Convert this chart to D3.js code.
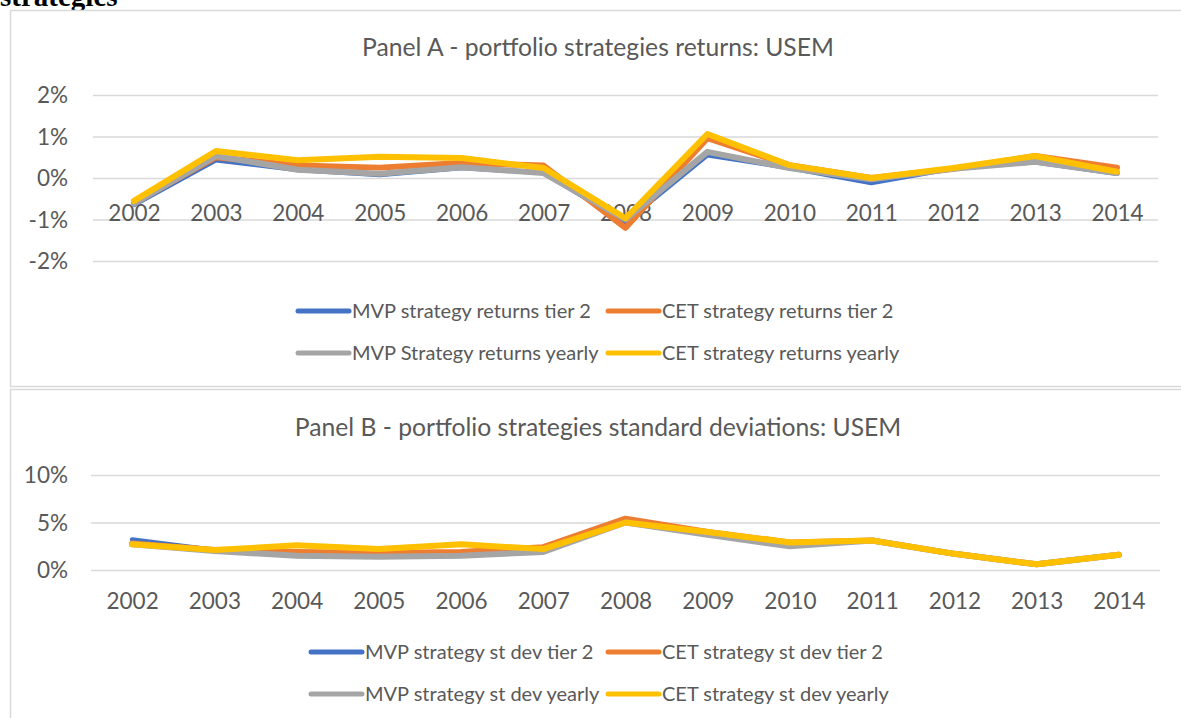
<!DOCTYPE html>
<html><head><meta charset="utf-8">
<script src="https://cdn.jsdelivr.net/npm/d3@7"></script>
<style>
html,body{margin:0;padding:0;background:#fff;overflow:hidden}
svg{display:block}
</style></head>
<body>
<svg id="chart" width="1181" height="718"></svg>
<script>
// ---- data ----
const years = ["2002","2003","2004","2005","2006","2007","2008","2009","2010","2011","2012","2013","2014"];

const panelATitle = "Panel A - portfolio strategies returns: USEM";
const panelANames = ["MVP strategy returns tier 2","CET strategy returns tier 2","MVP Strategy returns yearly","CET strategy returns yearly"];
const mvpRetTier2   = [-0.65, 0.43, 0.19, 0.07, 0.24, 0.12, -1.06, 0.55, 0.24, -0.12, 0.23, 0.38, 0.10];
const cetRetTier2   = [-0.60, 0.50, 0.30, 0.25, 0.36, 0.30, -1.20, 0.96, 0.31, 0.00, 0.22, 0.53, 0.25];
const mvpRetYearly  = [-0.62, 0.53, 0.20, 0.10, 0.26, 0.12, -1.00, 0.63, 0.24, -0.03, 0.22, 0.39, 0.12];
const cetRetYearly  = [-0.55, 0.65, 0.43, 0.51, 0.48, 0.24, -0.97, 1.06, 0.31, 0.00, 0.24, 0.53, 0.15];
const panelATicks = [-2, -1, 0, 1, 2];

const panelBTitle = "Panel B - portfolio strategies standard deviations: USEM";
const panelBNames = ["MVP strategy st dev tier 2","CET strategy st dev tier 2","MVP strategy st dev yearly","CET strategy st dev yearly"];
const mvpSdTier2  = [3.2, 2.1, 1.5, 1.4, 1.5, 1.9, 5.0, 3.7, 2.5, 3.1, 1.7, 0.6, 1.6];
const cetSdTier2  = [2.8, 2.1, 1.9, 1.8, 1.9, 2.4, 5.4, 4.0, 2.9, 3.1, 1.7, 0.6, 1.6];
const mvpSdYearly = [2.7, 2.0, 1.5, 1.4, 1.5, 1.9, 5.0, 3.7, 2.5, 3.1, 1.7, 0.6, 1.6];
const cetSdYearly = [2.7, 2.1, 2.6, 2.2, 2.7, 2.2, 5.0, 4.0, 2.9, 3.1, 1.7, 0.6, 1.6];
const panelBTicks = [0, 5, 10];

const colors = ["#4472C4", "#ED7D31", "#A5A5A5", "#FFC000"];

// ---- drawing ----
const svg = d3.select("#chart");
const FONT = "Lato, 'Open Sans', sans-serif";
const TXT = "#595959";

svg.append("text").attr("x", 0).attr("y", 6)
  .attr("font-family", "'Liberation Serif','Times New Roman',serif")
  .attr("font-weight", "bold").attr("font-size", 29).attr("fill", "#000")
  .text("strategies");

function panel(cfg) {
  const g = svg.append("g");
  g.append("rect").attr("x", 10.5).attr("y", cfg.top + 0.5)
    .attr("width", 1190).attr("height", cfg.bottom - cfg.top)
    .attr("fill", "#fff").attr("stroke", "#d9d9d9").attr("stroke-width", 1.5);

  g.append("text").attr("x", 598).attr("y", cfg.titleY).attr("dy", "0.35em")
    .attr("text-anchor", "middle").attr("font-family", FONT)
    .attr("font-size", cfg.titleSize).attr("fill", TXT).text(cfg.title);

  const x = d3.scalePoint().domain(years).range([cfg.x0, cfg.x1]).padding(0.5);
  const y = d3.scaleLinear().domain(cfg.domain).range([cfg.yBottom, cfg.yTop]);

  // gridlines
  const yAxis = d3.axisLeft(y).tickValues(cfg.ticks)
    .tickSize(-(cfg.x1 - cfg.x0))
    .tickFormat(d => d + "%");
  const ya = g.append("g").attr("transform", `translate(${cfg.x0},0)`).call(yAxis);
  ya.select(".domain").remove();
  ya.selectAll(".tick line").attr("stroke", "#d9d9d9").attr("stroke-width", 1.5);
  ya.selectAll(".tick text").attr("font-family", FONT).attr("font-size", cfg.tickSize)
    .attr("fill", TXT).attr("x", 68 - cfg.x0).attr("dy", "0.35em");

  // x labels
  const xAxis = d3.axisBottom(x).tickSize(0).tickPadding(0);
  const xa = g.append("g").attr("transform", `translate(0,${cfg.xLabelY})`).call(xAxis);
  xa.select(".domain").remove();
  xa.selectAll(".tick text").attr("font-family", FONT).attr("font-size", cfg.tickSize)
    .attr("fill", TXT).attr("y", 0).attr("dy", "0.35em");

  const line = d3.line().x((d, i) => x(years[i])).y(d => y(d));
  cfg.series.forEach((s, k) => {
    g.append("path").datum(s).attr("d", line)
      .attr("fill", "none").attr("stroke", colors[k])
      .attr("stroke-width", k === 0 ? 4.5 : 6)
      .attr("stroke-linejoin", "round").attr("stroke-linecap", "round");
  });

  // legend
  cfg.names.forEach((n, k) => {
    const col = k % 2, row = Math.floor(k / 2);
    const lx = cfg.legX[col], ly = cfg.legY[row];
    g.append("line").attr("x1", lx).attr("x2", lx + 51).attr("y1", ly).attr("y2", ly)
      .attr("stroke", colors[k]).attr("stroke-width", 5).attr("stroke-linecap", "round");
    g.append("text").attr("x", lx + 54).attr("y", ly).attr("dy", "0.35em")
      .attr("font-family", FONT).attr("font-size", cfg.legSize).attr("fill", TXT).text(n);
  });
}

panel({
  top: 10, bottom: 386, title: panelATitle, titleY: 47, titleSize: 24.7,
  x0: 93, x1: 1158, domain: [-2, 2], yBottom: 261, yTop: 95, ticks: panelATicks,
  xLabelY: 213, tickSize: 22.5,
  series: [mvpRetTier2, cetRetTier2, mvpRetYearly, cetRetYearly],
  names: panelANames, legX: [298, 608], legY: [311, 353], legSize: 20
});
panel({
  top: 389, bottom: 760, title: panelBTitle, titleY: 427, titleSize: 24.7,
  x0: 91, x1: 1160, domain: [0, 10], yBottom: 570, yTop: 475, ticks: panelBTicks,
  xLabelY: 601, tickSize: 22.5,
  series: [mvpSdTier2, cetSdTier2, mvpSdYearly, cetSdYearly],
  names: panelBNames, legX: [311, 608], legY: [652, 694], legSize: 20
});
</script>
</body></html>
